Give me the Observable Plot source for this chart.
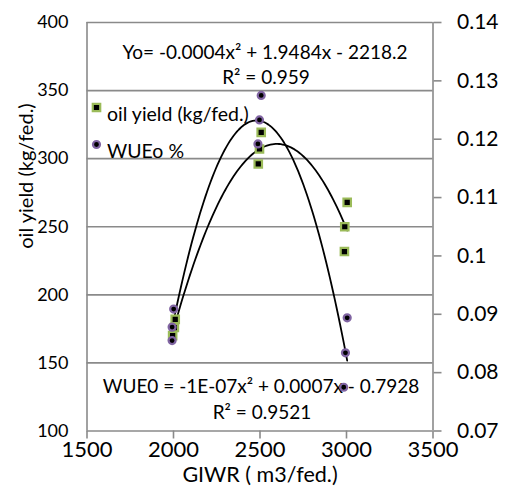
<!DOCTYPE html>
<html>
<head>
<meta charset="utf-8">
<script src="https://cdn.jsdelivr.net/npm/d3@7"></script>
<script src="https://cdn.jsdelivr.net/npm/@observablehq/plot@0.6"></script>
<style>
  html, body { margin: 0; padding: 0; background: #fff; }
  #chart svg { display: block; }
</style>
</head>
<body>
<div id="chart"></div>
<script>
// ---- data ----
const oilGIWR   = [2010, 2005, 1995, 2507, 2497, 2490, 3004, 2990, 2988];
const oilYield  = [182, 176, 170, 319.3, 307.1, 296.1, 267.9, 250, 231.8];
const wueGIWR   = [2001, 1992, 1992, 2507, 2497, 2488, 3004, 2994, 2984];
const wueValues = [0.0909, 0.0878, 0.0855, 0.1275, 0.1233, 0.1192, 0.0894, 0.0834, 0.0775];

const xTicks     = [1500, 2000, 2500, 3000, 3500];
const leftTicks  = [100, 150, 200, 250, 300, 350, 400];
const rightTicks = [0.07, 0.08, 0.09, 0.10, 0.11, 0.12, 0.13, 0.14];

const seriesNames = ["oil yield (kg/fed.)", "WUEo %"];
const xTitle = "GIWR ( m3/fed.)";
const yTitle = "oil yield (kg/fed.)";
const eqOil  = ["Yo= -0.0004x\u00b2 + 1.9484x - 2218.2", "R\u00b2 = 0.959"];
const eqWue  = ["WUE0 = -1E-07x\u00b2 + 0.0007x - 0.7928", "R\u00b2 = 0.9521"];

// ---- helpers ----
const leftDomain = [100, 400], rightDomain = [0.07, 0.14];
const toLeft = v => leftDomain[0] + (v - rightDomain[0]) / (rightDomain[1] - rightDomain[0]) * (leftDomain[1] - leftDomain[0]);
const fromLeft = d => rightDomain[0] + (d - leftDomain[0]) / (leftDomain[1] - leftDomain[0]) * (rightDomain[1] - rightDomain[0]);

// least-squares quadratic (trendline, as in the reference)
function quadFit(xs, ys) {
  const m = d3.mean(xs);
  const t = xs.map(x => (x - m) / 500);
  let S = [0,0,0,0,0], T = [0,0,0];
  t.forEach((u, i) => { for (let k = 0; k < 5; k++) S[k] += u ** k; for (let k = 0; k < 3; k++) T[k] += ys[i] * u ** k; });
  const A = [[S[0],S[1],S[2],T[0]],[S[1],S[2],S[3],T[1]],[S[2],S[3],S[4],T[2]]];
  for (let i = 0; i < 3; i++) {
    for (let j = i + 1; j < 3; j++) { const f = A[j][i] / A[i][i]; for (let k = i; k < 4; k++) A[j][k] -= f * A[i][k]; }
  }
  const c = [0,0,0];
  for (let i = 2; i >= 0; i--) { let s = A[i][3]; for (let k = i + 1; k < 3; k++) s -= A[i][k] * c[k]; c[i] = s / A[i][i]; }
  return x => { const u = (x - m) / 500; return c[0] + c[1] * u + c[2] * u * u; };
}
function trend(xs, ys) {
  const f = quadFit(xs, ys);
  const [a, b] = d3.extent(xs);
  return d3.range(0, 101).map(i => { const x = a + (b - a) * i / 100; return {x, y: f(x)}; });
}

const oilPts = oilGIWR.map((x, i) => ({x, y: oilYield[i]}));
const wuePts = wueGIWR.map((x, i) => ({x, y: toLeft(wueValues[i])}));
const oilCurve = trend(oilGIWR, oilYield);
const wueCurve = trend(wueGIWR, wueValues.map(toLeft));

const gray = "#8a8a8a";
const green = "#9bbb59";
const purple = "#8064a2";
const font = "Lato, 'Open Sans', sans-serif";

const chart = Plot.plot({
  width: 506,
  height: 496,
  marginLeft: 86.5,
  marginRight: 73.5,
  marginTop: 22,
  marginBottom: 65.5,
  style: { fontFamily: font, background: "#fff", overflow: "visible" },
  x: { domain: [1500, 3500] },
  y: { domain: leftDomain },
  marks: [
    Plot.ruleY(leftTicks.slice(1), { stroke: gray, strokeWidth: 1.6 }),
    Plot.ruleX([xTicks[0], xTicks[xTicks.length - 1]], { stroke: gray, strokeWidth: 1.6 }),
    Plot.ruleY([leftTicks[0]], { stroke: gray, strokeWidth: 1.6 }),
    Plot.axisX(xTicks, { tickSize: 8, tickPadding: 2, fontSize: 22, stroke: gray, strokeWidth: 1.6, fill: "#000", label: null, tickFormat: d => String(d) }),
    Plot.axisY(leftTicks, { tickSize: 0, tickPadding: 18.5, fontSize: 18, fill: "#000", label: null }),
    Plot.axisY(rightTicks.map(toLeft), { anchor: "right", tickSize: 8, tickPadding: 16, fontSize: 21, stroke: gray, strokeWidth: 1.6, fill: "#000",
      tickFormat: d => String(Math.round(fromLeft(d) * 100) / 100), label: null }),
    // titles
    Plot.text([xTitle], { frameAnchor: "bottom", dy: 51, fontSize: 21.5, fill: "#000" }),
    Plot.text([yTitle], { frameAnchor: "left", dx: -60, dy: 22, rotate: -90, fontSize: 20, fill: "#000" }),
    // equations
    Plot.text([eqOil[0]], { frameAnchor: "top", dx: 5, dy: 23, fontSize: 19, fill: "#000" }),
    Plot.text([eqOil[1]], { frameAnchor: "top", dx: 6, dy: 48, fontSize: 19, fill: "#000" }),
    Plot.text([eqWue[0]], { frameAnchor: "bottom", dx: 1, dy: -38, fontSize: 19, fill: "#000" }),
    Plot.text([eqWue[1]], { frameAnchor: "bottom", dx: 2, dy: -12, fontSize: 19, fill: "#000" }),
    // legend
    Plot.dot([seriesNames[0]], { frameAnchor: "top-left", dx: 9.5, dy: 85, symbol: "square", r: 4.2, fill: "#000", stroke: green, strokeWidth: 2.2 }),
    Plot.text([seriesNames[0]], { frameAnchor: "top-left", dx: 20, dy: 85, textAnchor: "start", fontSize: 19.5, fill: "#000" }),
    Plot.dot([seriesNames[1]], { frameAnchor: "top-left", dx: 9.5, dy: 122, symbol: "circle", r: 3.5, fill: "#000", stroke: purple, strokeWidth: 2.2 }),
    Plot.text([seriesNames[1]], { frameAnchor: "top-left", dx: 20, dy: 122, textAnchor: "start", fontSize: 19.5, fill: "#000" }),
    // trendlines
    Plot.line(oilCurve, { x: "x", y: "y", stroke: "#000", strokeWidth: 1.8 }),
    Plot.line(wueCurve, { x: "x", y: "y", stroke: "#000", strokeWidth: 1.8 }),
    // points
    Plot.dot(oilPts, { x: "x", y: "y", symbol: "square", r: 4.2, fill: "#000", stroke: green, strokeWidth: 2.2 }),
    Plot.dot(wuePts, { x: "x", y: "y", symbol: "circle", r: 3.5, fill: "#000", stroke: purple, strokeWidth: 2.2 })
  ]
});
document.getElementById("chart").appendChild(chart);
</script>
</body>
</html>
